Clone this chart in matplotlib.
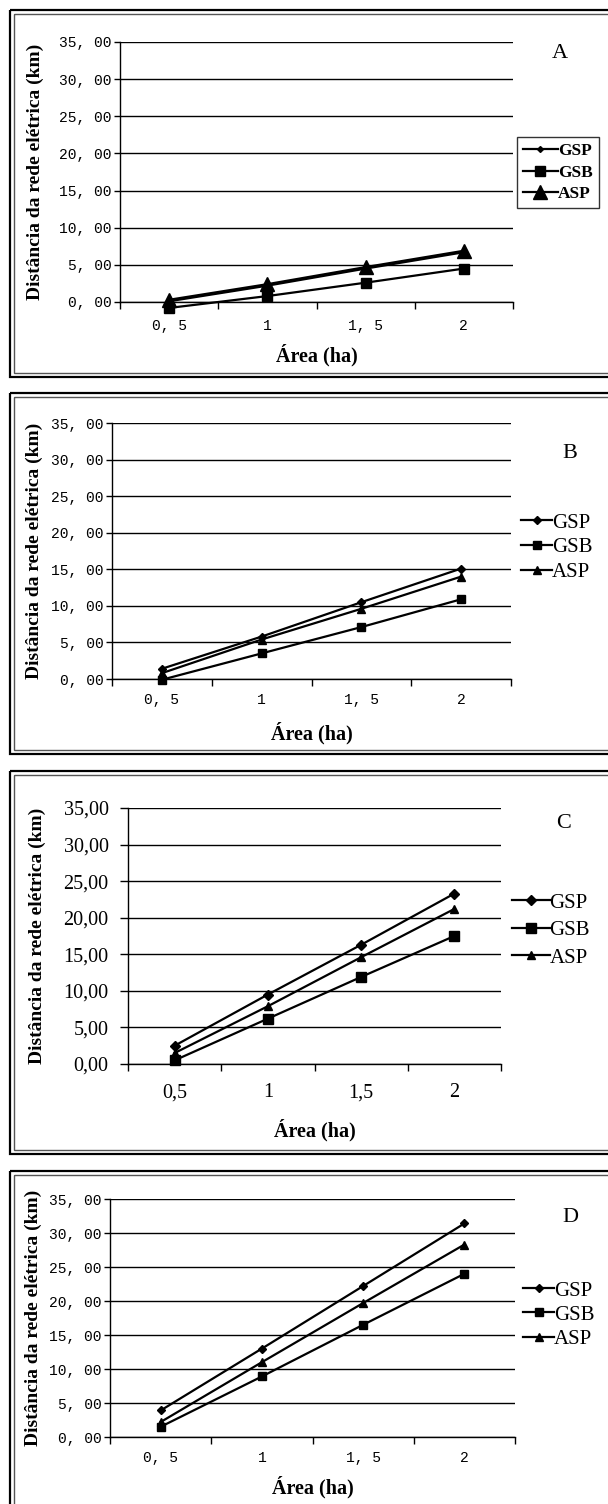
import matplotlib
matplotlib.use('Agg')
import matplotlib.pyplot as plt
from matplotlib.patches import Rectangle

# Dados (Distância da rede elétrica, km)
areas = ['0,5', '1', '1,5', '2']
areas_mono = ['0, 5', '1', '1, 5', '2']
series = ['GSP', 'GSB', 'ASP']

gsp_a = [0.1, 2.2, 4.5, 6.7]
gsb_a = [-0.8, 0.8, 2.6, 4.5]
asp_a = [0.3, 2.4, 4.7, 6.9]

gsp_b = [1.4, 5.8, 10.5, 15.1]
gsb_b = [-0.1, 3.5, 7.1, 10.9]
asp_b = [0.8, 5.4, 9.6, 14.0]

gsp_c = [2.5, 9.5, 16.3, 23.3]
gsb_c = [0.5, 6.2, 11.9, 17.5]
asp_c = [1.5, 7.9, 14.6, 21.2]

gsp_d = [3.9, 13.0, 22.2, 31.4]
gsb_d = [1.5, 8.9, 16.5, 24.0]
asp_d = [2.2, 11.0, 19.7, 28.3]

yticks = [0, 5, 10, 15, 20, 25, 30, 35]

W, H = 608, 1504
fig = plt.figure(figsize=(W / 100, H / 100), dpi=100)
SERIF = 'Liberation Serif'
MONO = 'Liberation Mono'

# moldura dupla de cada painel (coordenadas em pixels)
bg = fig.add_axes([0, 0, 1, 1])
bg.set_xlim(0, W)
bg.set_ylim(H, 0)
bg.axis('off')
frames = [(10, 377), (393, 754), (771, 1154), (1171, 1530)]
for top, bot in frames:
    bg.add_patch(Rectangle((10, top), 620, bot - top, fill=False, ec='black', lw=1.6))
    bg.add_patch(Rectangle((14, top + 4), 620, bot - top - 8, fill=False, ec='#555555', lw=1.0))


def px_axes(x0, x1, y0, y1):
    return fig.add_axes([x0 / W, 1 - y1 / H, (x1 - x0) / W, (y1 - y0) / H])


def panel(box, gsp, gsb, asp, letter, letter_xy, cfg):
    x0, x1, y0, y1 = box
    ax = px_axes(x0, x1, y0, y1)
    ax.set_facecolor('none')
    pos = [0.5, 1.5, 2.5, 3.5]
    ms = cfg['ms']
    ax.plot(pos, gsp, color='black', lw=1.6, marker='D', ms=ms[0], label='GSP', clip_on=False)
    ax.plot(pos, gsb, color='black', lw=1.6, marker='s', ms=ms[1], label='GSB', clip_on=False)
    ax.plot(pos, asp, color='black', lw=1.6, marker='^', ms=ms[2], label='ASP', clip_on=False)

    ax.set_xlim(0, 4)
    ax.set_ylim(0, 35)
    ax.set_yticks(yticks)
    ax.yaxis.grid(True, color='black', lw=1.0)
    ax.set_axisbelow(True)
    for s in ['top', 'right']:
        ax.spines[s].set_visible(False)
    for s in ['left', 'bottom']:
        ax.spines[s].set_linewidth(1.0)

    ax.set_xticks([0, 1, 2, 3, 4])
    ax.set_xticklabels([])
    ax.set_xticks(pos, minor=True)
    ax.set_xticklabels(cfg['xlabels'], minor=True, fontfamily=cfg['tickfont'], fontsize=cfg['tickfs'])
    ax.tick_params(axis='x', which='major', direction='out', length=5, width=1.0)
    ax.tick_params(axis='x', which='minor', length=0, pad=cfg['xpad'])
    ax.set_yticklabels([cfg['yfmt'].format(v) for v in yticks],
                       fontfamily=cfg['tickfont'], fontsize=cfg['tickfs'])
    ax.tick_params(axis='y', direction='out', length=cfg['ytl'], width=1.0, pad=cfg['ypad'])

    ax.set_ylabel('Distância da rede elétrica (km)', fontfamily=SERIF,
                  fontweight='bold', fontsize=14)
    ax.yaxis.set_label_coords((cfg['ylab_x'] - x0) / (x1 - x0), 0.5)
    ax.yaxis.label.set_va('center')
    ax.set_xlabel('Área (ha)', fontfamily=SERIF, fontweight='bold', fontsize=14.5)
    ax.xaxis.set_label_coords(0.5, (y1 - cfg['xlab_y']) / (y1 - y0))
    ax.xaxis.label.set_va('center')

    fig.text(letter_xy[0] / W, 1 - letter_xy[1] / H, letter, fontfamily=SERIF,
             fontsize=16, ha='center', va='center')

    lg = cfg['legend']
    leg = ax.legend(loc='upper left', bbox_to_anchor=(lg['x'] / W, 1 - lg['y'] / H),
                    bbox_transform=fig.transFigure, frameon=lg['frame'],
                    fancybox=False, edgecolor='black', borderpad=lg['bp'],
                    borderaxespad=0, handlelength=lg['hl'], handletextpad=0,
                    labelspacing=lg['ls'],
                    prop={'family': SERIF, 'size': lg['fs'], 'weight': lg['weight']})
    leg.get_frame().set_linewidth(1.0)
    return ax


base = dict(xlabels=areas_mono, tickfont=MONO, tickfs=10.5, yfmt='{:.0f}, 00',
            ytl=4, ypad=2, ms=(4, 6, 6))

cfg_a = dict(base, xpad=12, ylab_x=35, xlab_y=355, ms=(3, 7, 10),
             legend=dict(x=517, y=137, frame=True, bp=0.35, hl=2.0, ls=0.3, fs=12.5, weight='bold'))
cfg_b = dict(base, xpad=10, ylab_x=34, xlab_y=733,
             legend=dict(x=521, y=513, frame=False, bp=0, hl=1.5, ls=0.25, fs=15, weight='normal'))
cfg_c = dict(xlabels=areas, tickfont=SERIF, tickfs=14.5, yfmt='{:.0f},00', ytl=6, ypad=8,
             ms=(5, 7, 6), xpad=14, ylab_x=37, xlab_y=1130,
             legend=dict(x=512, y=893, frame=False, bp=0, hl=1.8, ls=0.38, fs=15, weight='normal'))
cfg_d = dict(base, xpad=10, ylab_x=33, xlab_y=1487,
             legend=dict(x=523, y=1281, frame=False, bp=0, hl=1.5, ls=0.22, fs=15, weight='normal'))

panel((120, 513, 42, 302), gsp_a, gsb_a, asp_a, 'A', (560, 53), cfg_a)
panel((112, 511, 423, 679), gsp_b, gsb_b, asp_b, 'B', (570, 453), cfg_b)
panel((128, 501, 808, 1064), gsp_c, gsb_c, asp_c, 'C', (564, 823), cfg_c)
panel((110, 515, 1199, 1437), gsp_d, gsb_d, asp_d, 'D', (570, 1218), cfg_d)

fig.savefig('out.png', dpi=100)
